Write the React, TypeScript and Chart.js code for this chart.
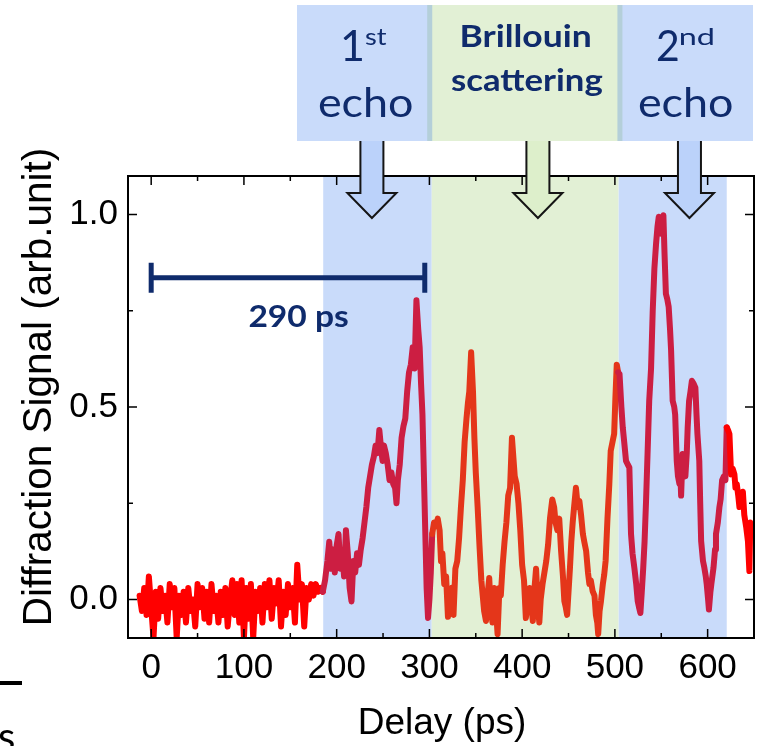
import React, { useEffect, useRef } from "react";
import { Chart, registerables } from "chart.js";

Chart.register(...registerables);

// Delay (ps) and normalised diffraction signal, one pair of arrays per time window
const preDelay = [-12.5, -10, -7.5, -5, -2.5, 0, 2.5, 5, 7.5, 10, 12.5, 15, 17.5, 20, 22.5, 25, 27.5, 30, 32.5, 35, 37.5, 40, 42.5, 45, 47.5, 50, 52.5, 55, 57.5, 60, 62.5, 65, 67.5, 70, 72.5, 75, 77.5, 80, 82.5, 85, 87.5, 90, 92.5, 95, 97.5, 100, 102.5, 105, 107.5, 110, 112.5, 115, 117.5, 120, 122.5, 125, 127.5, 130, 132.5, 135, 137.5, 140, 142.5, 145, 147.5, 150, 152.5, 155, 157.5, 160, 162.5, 165, 167.5, 170, 172.5, 175, 177.5, 180, 182.5, 185];
const preSignal = [0.01, -0.03, 0.03, -0.04, 0.06, -0.02, -0.1, 0.02, -0.05, 0.03, -0.03, 0.01, -0.06, 0.04, -0.02, 0.03, -0.1, 0.01, -0.04, 0.02, -0.06, 0.03, -0.03, 0.0, -0.07, 0.04, -0.02, 0.03, -0.05, 0.02, -0.06, 0.04, -0.03, 0.01, -0.06, 0.02, -0.04, 0.03, -0.07, 0.0, 0.05, -0.04, 0.04, -0.06, 0.05, -0.1, 0.03, -0.05, 0.04, -0.1, 0.02, -0.03, 0.03, -0.06, 0.04, -0.02, 0.05, -0.05, 0.03, -0.01, 0.05, -0.07, 0.02, -0.04, 0.04, -0.02, 0.03, -0.06, 0.09, 0.0, 0.04, -0.07, 0.03, 0.0, 0.04, 0.01, 0.04, 0.02, 0.03, 0.02];

const echo1Delay = [187.5, 190, 192, 194, 196, 198, 200, 202, 204, 206, 208, 210, 212, 214, 216, 218, 220, 222, 224, 226, 228, 230, 232, 234, 236, 238, 240, 242, 244, 246, 248, 249.5, 251, 253, 255, 257, 259, 261, 263, 264.5, 266, 268, 270, 272, 274, 276, 278, 280, 282, 284, 286, 288, 289.5, 291, 292.5, 294, 295.5, 297, 298.5, 300, 301.5];
const echo1Signal = [0.05, 0.1, 0.15, 0.08, 0.13, 0.07, 0.14, 0.17, 0.08, 0.12, 0.06, 0.18, 0.12, 0.03, -0.005, 0.1, 0.07, 0.12, 0.09, 0.13, 0.16, 0.2, 0.24, 0.29, 0.32, 0.35, 0.37, 0.4, 0.38, 0.44, 0.39, 0.36, 0.4, 0.38, 0.35, 0.31, 0.33, 0.3, 0.29, 0.25, 0.31, 0.35, 0.42, 0.45, 0.47, 0.54, 0.59, 0.61, 0.655, 0.6, 0.777, 0.7, 0.655, 0.56, 0.48, 0.33, 0.18, 0.03, -0.048, 0.0, 0.07];

const brillouinDelay = [303, 305, 307, 309, 311, 312.5, 314, 316, 318, 320, 322, 324, 326, 328, 330, 332, 334, 336, 338, 340, 341.5, 343, 345, 347, 348.5, 350, 352, 354, 356, 357.5, 359, 361, 363, 364.5, 366, 368, 370, 372, 373.5, 375.5, 377, 379, 381, 383, 385, 387, 389, 390.5, 392, 394, 396, 398, 400, 402, 404, 406, 408, 410, 411.5, 413, 415, 417, 418.5, 420, 422, 424, 426, 428, 430, 432.5, 434.5, 436, 438, 440, 442, 444, 445.5, 447, 448.5, 450, 451.5, 453, 454.5, 456, 458, 460, 461.7, 463.5, 465.5, 467, 469, 471, 472.5, 474, 476, 478, 479.5, 481, 482, 483.5, 485, 487, 488.5, 490, 492, 494, 495.5, 497.5, 499.2, 500.5, 502];
const brillouinSignal = [0.17, 0.2, 0.19, 0.21, 0.18, 0.1, 0.12, 0.04, 0.06, -0.045, 0.02, 0.03, -0.04, 0.08, 0.1, 0.16, 0.24, 0.31, 0.41, 0.47, 0.51, 0.54, 0.642, 0.54, 0.42, 0.33, 0.24, 0.14, 0.05, 0.01, -0.03, -0.056, 0.02, 0.056, -0.02, -0.06, 0.03, -0.03, -0.09, 0.03, 0.01, 0.09, 0.15, 0.2, 0.27, 0.29, 0.42, 0.37, 0.32, 0.3, 0.25, 0.18, 0.09, 0.05, -0.048, 0.0, 0.03, -0.02, -0.056, 0.02, 0.08, -0.02, -0.06, 0.0, 0.04, 0.07, 0.1, 0.143, 0.21, 0.26, 0.24, 0.2, 0.18, 0.21, 0.126, 0.06, -0.004, -0.02, -0.04, 0.02, 0.08, 0.15, 0.2, 0.24, 0.29, 0.24, 0.256, 0.22, 0.17, 0.15, 0.126, 0.07, 0.04, 0.05, 0.022, 0.01, -0.04, -0.06, -0.09, -0.03, -0.004, 0.04, 0.065, 0.1, 0.21, 0.3, 0.386, 0.41, 0.43, 0.52, 0.61];

const echo2Delay = [503.5, 505, 507, 508.5, 510, 512, 514, 515.6, 517.4, 519, 521, 523, 524.6, 526, 527.5, 529, 530.5, 532, 533.6, 535.5, 537, 539, 540.8, 542.6, 544.4, 546, 547.3, 549, 550, 551, 552.3, 553.5, 555, 556.5, 558, 559.5, 560.6, 562.3, 564, 565, 566.7, 568, 569.6, 570.5, 571.4, 573, 574.5, 576, 577.5, 578.5, 580, 581.5, 583, 585, 586.8, 588, 589, 591, 592, 593, 595, 596.5, 598, 599, 600.5, 601.4, 603, 604, 606.3, 608, 609, 611, 612.7, 614, 615.6, 617.5, 619.2, 620.6];
const echo2Signal = [0.59, 0.586, 0.5, 0.447, 0.41, 0.36, 0.35, 0.343, 0.17, 0.12, 0.082, 0.04, -0.004, -0.02, -0.035, 0.02, 0.08, 0.15, 0.256, 0.4, 0.516, 0.6, 0.75, 0.86, 0.924, 0.97, 0.994, 0.96, 0.95, 0.99, 0.998, 0.9, 0.794, 0.78, 0.76, 0.7, 0.647, 0.516, 0.5, 0.48, 0.36, 0.32, 0.3, 0.34, 0.27, 0.378, 0.33, 0.32, 0.38, 0.447, 0.516, 0.54, 0.568, 0.56, 0.55, 0.48, 0.43, 0.36, 0.25, 0.152, 0.1, 0.082, 0.06, 0.04, 0.0, -0.026, 0.02, 0.04, 0.082, 0.13, 0.17, 0.2, 0.24, 0.26, 0.31, 0.32, 0.31, 0.447];

const tailDelay = [622, 623.5, 625.3, 627, 628.9, 630, 631.4, 633, 634.3, 636, 638, 639.5, 641.7, 643.5, 645, 646, 647.5, 649, 650];
const tailSignal = [0.44, 0.43, 0.325, 0.34, 0.325, 0.29, 0.3, 0.27, 0.24, 0.26, 0.28, 0.22, 0.186, 0.15, 0.074, 0.2, 0.186, 0.17, 0.17];

// Axis ticks
const xMajorTicks = [0, 100, 200, 300, 400, 500, 600];
const xMinorTicks = [50, 150, 250, 350, 450, 550, 650];
const yMajorTicks = [0, 0.5, 1.0];
const yMinorTicks = [0.25, 0.75];

// Shaded time windows (ps)
const echoWindows = [
  [185.5, 302.5],
  [503.8, 620.6],
];
const brillouinWindow = [302.5, 503.8];

// Round-trip marker
const periodStart = 0;
const periodEnd = 295;
const periodLevel = 0.836;
const periodLabel = "290 ps";

// Arrow positions (ps)
const arrowDelays = [238, 417, 580.4];

const NAVY = "#0f2b6c";
const BAND_BLUE = "#c9dbfa";
const BAND_GREEN = "#e2f0d5";

const allDelay = [...preDelay, ...echo1Delay, ...brillouinDelay, ...echo2Delay, ...tailDelay];
const allSignal = [...preSignal, ...echo1Signal, ...brillouinSignal, ...echo2Signal, ...tailSignal];

const inWindow = (t: number, w: number[]) => t >= w[0] && t < w[1];
const lineColor = (t: number) => {
  if (inWindow(t, brillouinWindow)) return "#e4361a";
  if (echoWindows.some((w) => inWindow(t, w))) return "#cc1e42";
  return "#ff0000";
};

const TICK_FONT = '"Liberation Sans", Arial, sans-serif';

function fitText(
  ctx: CanvasRenderingContext2D,
  text: string,
  x0: number,
  x1: number,
  baseline: number,
  font: string
) {
  ctx.save();
  ctx.font = font;
  ctx.textAlign = "left";
  ctx.textBaseline = "alphabetic";
  const m = ctx.measureText(text);
  const ink = m.actualBoundingBoxLeft + m.actualBoundingBoxRight;
  const sx = (x1 - x0) / ink;
  ctx.translate(x0, baseline);
  ctx.scale(sx, 1);
  ctx.fillText(text, m.actualBoundingBoxLeft, 0);
  ctx.restore();
}

const decorations = {
  id: "decorations",
  beforeDatasetsDraw(chart: any) {
    const { ctx, chartArea, scales } = chart;
    const { left, right, top, bottom } = chartArea;
    const x = scales.x;
    ctx.save();
    const band = (w: number[], color: string) => {
      const x0 = Math.max(left, x.getPixelForValue(w[0]));
      const x1 = Math.min(right, x.getPixelForValue(w[1]));
      ctx.fillStyle = color;
      ctx.fillRect(x0, top, x1 - x0, bottom - top);
    };
    echoWindows.forEach((w) => band(w, BAND_BLUE));
    band(brillouinWindow, BAND_GREEN);
    ctx.restore();
  },
  afterDatasetsDraw(chart: any) {
    const { ctx, chartArea, scales } = chart;
    const { left, right, top, bottom } = chartArea;
    const x = scales.x;
    const y = scales.y;
    ctx.save();

    // frame
    ctx.strokeStyle = "#000";
    ctx.lineWidth = 2;
    ctx.strokeRect(left, top, right - left, bottom - top);

    // inward ticks on all four sides
    ctx.lineWidth = 1.5;
    const xTick = (v: number, len: number) => {
      const px = x.getPixelForValue(v);
      ctx.beginPath();
      ctx.moveTo(px, bottom);
      ctx.lineTo(px, bottom - len);
      ctx.moveTo(px, top);
      ctx.lineTo(px, top + len);
      ctx.stroke();
    };
    const yTick = (v: number, len: number) => {
      const py = y.getPixelForValue(v);
      ctx.beginPath();
      ctx.moveTo(left, py);
      ctx.lineTo(left + len, py);
      ctx.moveTo(right, py);
      ctx.lineTo(right - len, py);
      ctx.stroke();
    };
    xMajorTicks.forEach((v) => xTick(v, 9));
    xMinorTicks.forEach((v) => xTick(v, 5));
    yMajorTicks.forEach((v) => yTick(v, 9));
    yMinorTicks.forEach((v) => yTick(v, 5));

    // round-trip marker
    const px0 = x.getPixelForValue(periodStart);
    const px1 = x.getPixelForValue(periodEnd);
    const py = y.getPixelForValue(periodLevel);
    ctx.strokeStyle = NAVY;
    ctx.lineWidth = 5;
    ctx.beginPath();
    ctx.moveTo(px0, py);
    ctx.lineTo(px1, py);
    ctx.moveTo(px0, py - 15);
    ctx.lineTo(px0, py + 15);
    ctx.moveTo(px1, py - 15);
    ctx.lineTo(px1, py + 15);
    ctx.stroke();
    ctx.fillStyle = NAVY;
    fitText(ctx, periodLabel, 249.5, 348.5, 326.5, '700 30px Lato');
    ctx.restore();
  },
  afterDraw(chart: any) {
    const { ctx, scales } = chart;
    const x = scales.x;
    ctx.save();

    // header boxes
    const boxTop = 5;
    const boxBottom = 141;
    const h = boxBottom - boxTop;
    const g0 = x.getPixelForValue(brillouinWindow[0]) - 2;
    const g1 = x.getPixelForValue(brillouinWindow[1]) + 1.5;
    ctx.fillStyle = BAND_BLUE;
    ctx.fillRect(297, boxTop, g0 - 297, h);
    ctx.fillRect(g1, boxTop, 753 - g1, h);
    ctx.fillStyle = BAND_GREEN;
    ctx.fillRect(g0, boxTop, g1 - g0, h);
    ctx.fillStyle = "#b4cfd9";
    ctx.fillRect(g0 - 2.5, boxTop, 5, h);
    ctx.fillRect(g1 - 2.5, boxTop, 5, h);

    ctx.fillStyle = NAVY;
    fitText(ctx, "1", 343, 362, 61, '400 43px Lato');
    fitText(ctx, "st", 365, 387, 45, '400 24px Lato');
    fitText(ctx, "echo", 319, 411.5, 117, '400 40px Lato');
    fitText(ctx, "2", 658, 678, 61, '400 43px Lato');
    fitText(ctx, "nd", 680, 713, 45, '400 24px Lato');
    fitText(ctx, "echo", 639, 731.5, 117, '400 40px Lato');
    fitText(ctx, "Brillouin", 461.7, 590, 47, '700 31px Lato');
    fitText(ctx, "scattering", 451, 602.3, 91, '700 31px Lato');

    // arrows pointing into the plot
    const arrowFills = ["rgba(120,165,245,0.5)", "rgba(180,220,140,0.45)", "rgba(120,165,245,0.5)"];
    arrowDelays.forEach((d, i) => {
      const cx = x.getPixelForValue(d);
      const pts: [number, number][] = [
        [cx - 11.5, boxBottom],
        [cx - 11.5, 193],
        [cx - 24.5, 193],
        [cx, 218],
        [cx + 24.5, 193],
        [cx + 11.5, 193],
        [cx + 11.5, boxBottom],
      ];
      ctx.beginPath();
      pts.forEach(([px, py], k) => (k === 0 ? ctx.moveTo(px, py) : ctx.lineTo(px, py)));
      ctx.closePath();
      ctx.fillStyle = "#fff";
      ctx.fill();
      ctx.fillStyle = arrowFills[i];
      ctx.fill();
      ctx.beginPath();
      pts.forEach(([px, py], k) => (k === 0 ? ctx.moveTo(px, py) : ctx.lineTo(px, py)));
      ctx.strokeStyle = "#151515";
      ctx.lineWidth = 2;
      ctx.lineJoin = "miter";
      ctx.stroke();
    });

    // axis titles
    ctx.fillStyle = "#000";
    ctx.font = `37px ${TICK_FONT}`;
    ctx.textAlign = "center";
    ctx.textBaseline = "alphabetic";
    ctx.fillText("Delay (ps)", 442, 734);

    ctx.save();
    ctx.translate(51, 387);
    ctx.rotate(-Math.PI / 2);
    ctx.font = `40.5px ${TICK_FONT}`;
    ctx.fillText("Diffraction Signal (arb.unit)", 0, 0);
    ctx.restore();

    // edge fragments
    ctx.fillStyle = "#000";
    ctx.fillRect(0, 681, 22, 4);
    ctx.font = "40px Lato";
    ctx.textAlign = "left";
    ctx.fillText("s", -2, 751);

    ctx.restore();
  },
};

export default function App() {
  const canvasRef = useRef<HTMLCanvasElement>(null);

  useEffect(() => {
    const canvas = canvasRef.current;
    if (!canvas) return;
    const points = allDelay.map((d, i) => ({ x: d, y: allSignal[i] }));
    const chart = new Chart(canvas, {
      type: "line",
      data: {
        datasets: [
          {
            data: points,
            borderColor: "#ff0000",
            borderWidth: 6,
            pointRadius: 0,
            tension: 0,
            borderJoinStyle: "round",
            borderCapStyle: "round",
            clip: 0,
            segment: {
              borderColor: (c: any) => lineColor((c.p0.parsed.x + c.p1.parsed.x) / 2),
            },
          } as any,
        ],
      },
      options: {
        responsive: false,
        animation: false,
        layout: { padding: { top: 176, right: 4, left: 0, bottom: 0 } },
        plugins: {
          legend: { display: false },
          tooltip: { enabled: false },
        },
        scales: {
          x: {
            type: "linear",
            min: -25,
            max: 650,
            grid: { display: false, drawTicks: false },
            border: { display: false },
            afterBuildTicks: (s: any) => {
              s.ticks = xMajorTicks.map((v) => ({ value: v }));
            },
            afterFit: (s: any) => {
              s.height = 108;
            },
            ticks: {
              autoSkip: false,
              maxRotation: 0,
              padding: 9,
              color: "#000",
              font: { family: TICK_FONT, size: 35 },
              callback: (v: any) => String(v),
            },
          },
          y: {
            type: "linear",
            min: -0.1,
            max: 1.1,
            grid: { display: false, drawTicks: false },
            border: { display: false },
            afterBuildTicks: (s: any) => {
              s.ticks = yMajorTicks.map((v) => ({ value: v }));
            },
            afterFit: (s: any) => {
              s.width = 128;
            },
            ticks: {
              padding: 10,
              color: "#000",
              font: { family: TICK_FONT, size: 35 },
              callback: (v: any) => Number(v).toFixed(1),
            },
          },
        },
      },
      plugins: [decorations],
    });
    return () => chart.destroy();
  }, []);

  return (
    <div style={{ position: "absolute", left: 0, top: 0, width: 758, height: 746, background: "#fff" }}>
      <canvas ref={canvasRef} width={758} height={746} style={{ display: "block", width: 758, height: 746 }} />
    </div>
  );
}
